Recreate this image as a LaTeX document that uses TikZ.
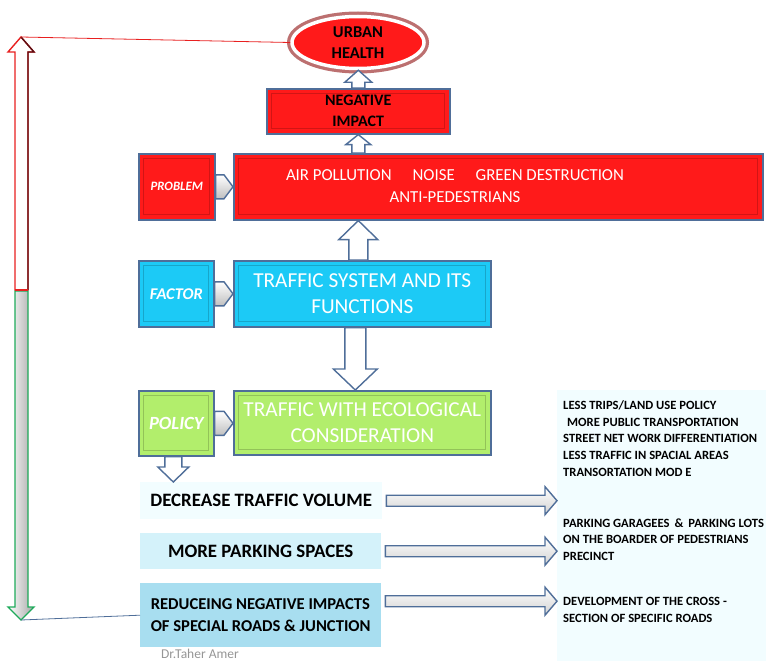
\documentclass[tikz,border=0pt]{standalone}
\usepackage{fontspec}
\setmainfont{Carlito}
\usetikzlibrary{positioning,calc,shapes.geometric}

\definecolor{hotred}{RGB}{255,26,26}
\definecolor{halored}{RGB}{188,112,112}
\definecolor{skycyan}{RGB}{28,202,246}
\definecolor{limegreen}{RGB}{178,238,108}
\definecolor{edgeblue}{RGB}{79,110,153}
\definecolor{palecyan}{RGB}{242,253,255}
\definecolor{lightcyan}{RGB}{212,242,250}
\definecolor{midcyan}{RGB}{168,222,240}
\definecolor{arrowred}{RGB}{232,32,32}
\definecolor{darkred}{RGB}{90,16,20}
\definecolor{arrowgreen}{RGB}{30,170,90}
\definecolor{authorgray}{RGB}{150,150,150}

% vertical block arrow: [style]{start}{tip}{half shaft}{half head}{head length (signed)}
\newcommand{\vblock}[6][]{%
  \draw[#1] let \p1=(#2), \p2=(#3) in
    ({\x1-#4},\y1) -- ({\x1-#4},{\y2-#6}) -- ({\x1-#5},{\y2-#6}) -- (\x1,\y2)
    -- ({\x1+#5},{\y2-#6}) -- ({\x1+#4},{\y2-#6}) -- ({\x1+#4},\y1) -- cycle;}
% horizontal block arrow, same arguments
\newcommand{\hblock}[6][]{%
  \draw[#1] let \p1=(#2), \p2=(#3) in
    (\x1,{\y1+#4}) -- ({\x2-#6},{\y1+#4}) -- ({\x2-#6},{\y1+#5}) -- (\x2,\y1)
    -- ({\x2-#6},{\y1-#5}) -- ({\x2-#6},{\y1-#4}) -- (\x1,{\y1-#4}) -- cycle;}

\tikzset{
  bevelbox/.style={rectangle, draw=edgeblue, line width=1.6pt, fill=#1, inner sep=0pt,
    anchor=north west, align=center,
    path picture={\draw[line width=0.8pt, #1!82!black]
      ([shift={(5pt,-5pt)}]path picture bounding box.north west) rectangle
      ([shift={(-5pt,5pt)}]path picture bounding box.south east);}},
  tagtext/.style={text=white, font=\bfseries\itshape\fontsize{#1}{#1}\selectfont},
  maintext/.style={text=white, font=\fontsize{21.3}{26.5}\selectfont},
  urbanoval/.style={ellipse, minimum width=132pt, minimum height=52pt, inner sep=0pt,
    fill=hotred, draw=white, line width=3.5pt, preaction={draw=halored, line width=10pt},
    align=center, font=\bfseries\fontsize{16.5}{21}\selectfont},
  plainbox/.style={rectangle, fill=#1, inner sep=0pt, anchor=north west},
  policytext/.style={font=\bfseries\fontsize{18.9}{22}\selectfont},
  paneltext/.style={anchor=west, align=left, inner sep=0pt,
    font=\bfseries\fontsize{12.6}{16.7}\selectfont},
  hollow/.style={draw=edgeblue, line width=1.4pt, fill=white, line join=miter},
  hollowshade/.style={draw=edgeblue, line width=1.4pt, top color=white, bottom color=gray!35},
  chevron/.style={draw=edgeblue, line width=1.4pt, top color=white, bottom color=gray!50},
}

\begin{document}
\begin{tikzpicture}[x=1pt,y=-1pt]
  \useasboundingbox (0,0) rectangle (766,661);

  % right hand panel
  \node[plainbox=palecyan, minimum width=209pt, minimum height=271pt] (panel) at (557,390) {};

  % main column
  \node[urbanoval] (urban) at (358,42.5) {URBAN\\HEALTH};
  \node[bevelbox=hotred, minimum width=183pt, minimum height=45pt,
        font=\bfseries\fontsize{16}{21}\selectfont] (neg) at (266,88) {NEGATIVE\\IMPACT};

  \node[bevelbox=hotred, minimum width=76pt, minimum height=66pt, tagtext=12.8] (probtag) at (138,153) {PROBLEM};
  \node[bevelbox=hotred, minimum width=529pt, minimum height=66pt] (prob) at (233,153) {};
  \node[text=white, align=center, font=\fontsize{16.8}{22}\selectfont] (probtext) at (455,186)
    {AIR POLLUTION\hspace{1.25em}NOISE\hspace{1.25em}GREEN DESTRUCTION\\ANTI-PEDESTRIANS};

  \node[bevelbox=skycyan, minimum width=75pt, minimum height=66pt, tagtext=16.4] (facttag) at (138,260) {FACTOR};
  \node[bevelbox=skycyan, minimum width=257pt, minimum height=66pt, maintext] (traf) at (233,260)
    {TRAFFIC SYSTEM AND ITS\\FUNCTIONS};

  \node[bevelbox=limegreen, minimum width=75pt, minimum height=65pt, tagtext=18.6] (poltag) at (138,390) {POLICY};
  \node[bevelbox=limegreen, minimum width=257pt, minimum height=64pt, maintext] (eco) at (233,390)
    {TRAFFIC WITH ECOLOGICAL\\CONSIDERATION};

  % policy boxes
  \node[plainbox=palecyan, minimum width=242pt, minimum height=37pt, policytext] (dec) at (140,482)
    {DECREASE TRAFFIC VOLUME};
  \node[plainbox=lightcyan, minimum width=241pt, minimum height=36pt, policytext] (park) at (140,533)
    {MORE PARKING SPACES};
  \node[plainbox=midcyan, minimum width=241pt, minimum height=64pt, align=left,
        font=\bfseries\fontsize{16.6}{22}\selectfont] (reduce) at (140,583)
    {REDUCEING NEGATIVE IMPACTS\\OF SPECIAL ROADS \& JUNCTION};

  % panel texts
  \node[paneltext] (trips) at (563,438.5) {LESS TRIPS/LAND USE POLICY\\\hspace{4pt}MORE PUBLIC TRANSPORTATION\\
    STREET NET WORK DIFFERENTIATION\\LESS TRAFFIC IN SPACIAL AREAS\\TRANSORTATION MOD E};
  \node[paneltext] (garages) at (563,539.5) {PARKING GARAGEES\hspace{5pt}\&\hspace{5pt}PARKING LOTS\\ON THE BOARDER OF PEDESTRIANS\\PRECINCT};
  \node[paneltext] (cross) at (563,610) {DEVELOPMENT OF THE CROSS -\\SECTION OF SPECIFIC ROADS};

  \node[text=authorgray, font=\fontsize{13.5}{13.5}\selectfont, inner sep=0pt] (author) at (200,653.5) {Dr.Taher Amer};

  % block arrows
  \vblock[hollow]{neg.north}{urban.south}{6.5pt}{13.5pt}{12pt}
  \vblock[hollow]{neg.south |- prob.north}{neg.south}{6.5pt}{12.5pt}{10pt}
  \vblock[hollow]{neg.south |- traf.north}{neg.south |- prob.south}{9.5pt}{19.5pt}{19pt}
  \vblock[hollow]{[xshift=-7pt]traf.south}{[xshift=-7pt]eco.north}{10.5pt}{22pt}{(-21pt)}
  \vblock[hollow]{[xshift=-3pt]poltag.south}{[xshift=-3pt]poltag.south |- dec.north}{8.5pt}{15.5pt}{(-15pt)}

  \hblock[chevron]{probtag.east}{prob.west}{12pt}{12pt}{9pt}
  \hblock[chevron]{facttag.east}{traf.west}{12pt}{12pt}{9pt}
  \hblock[chevron]{poltag.east}{eco.west}{12pt}{12pt}{9pt}

  \hblock[hollowshade]{[xshift=4pt]dec.east}{panel.west}{5.5pt}{14pt}{12pt}
  \hblock[hollowshade]{[xshift=4pt]park.east}{panel.west}{5.5pt}{14pt}{12pt}
  \hblock[hollowshade]{[xshift=4pt,yshift=14pt]reduce.east}{panel.west}{5.5pt}{14pt}{12pt}

  % left up/down arrow
  \coordinate (uptip) at (21,37);
  \coordinate (downtip) at (21,620);
  \draw[arrowred, line width=1.4pt, fill=white] (15,290) -- (15,52) -- (8,52) -- (uptip)
    -- (34,52) -- (28,52) -- (28,290) -- cycle;
  \draw[darkred, line width=1.4pt] (uptip) -- (34,52) -- (28,52) -- (28,290);
  \draw[arrowgreen, line width=1.4pt, left color=white, right color=gray!70] (15,291) -- (15,607)
    -- (8,607) -- (downtip) -- (34,607) -- (28,607) -- (28,291) -- cycle;
  \draw[arrowred, line width=1.5pt] (15,290) -- (28,290);

  \draw[arrowred, line width=0.8pt] (uptip) -- (urban.west);
  \draw[edgeblue, line width=0.8pt] (downtip) -- (reduce.west);
\end{tikzpicture}
\end{document}
